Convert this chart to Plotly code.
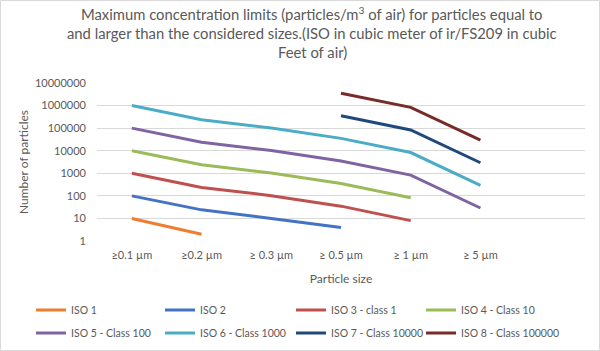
import plotly.graph_objects as go

categories = ["≥0.1 µm", "≥0.2 µm", "≥ 0.3 µm", "≥ 0.5 µm", "≥ 1 µm", "≥ 5 µm"]

iso1 = [10, 2, None, None, None, None]
iso2 = [100, 24, 10, 4, None, None]
iso3 = [1000, 237, 102, 35, 8, None]
iso4 = [10000, 2370, 1020, 352, 83, None]
iso5 = [100000, 23700, 10200, 3520, 832, 29]
iso6 = [1000000, 237000, 102000, 35200, 8320, 293]
iso7 = [None, None, None, 352000, 83200, 2930]
iso8 = [None, None, None, 3520000, 832000, 29300]

series_names = ["ISO 1", "ISO 2", "ISO 3 - class 1", "ISO 4 - Class 10",
                "ISO 5 - Class 100", "ISO 6 - Class 1000", "ISO 7 - Class 10000",
                "ISO 8 - Class 100000"]
series_values = [iso1, iso2, iso3, iso4, iso5, iso6, iso7, iso8]
colors = ["#ED7D31", "#4472C4", "#C0504D", "#9BBB59", "#8064A2", "#4BACC6",
          "#1F497D", "#772C2A"]

y_ticks = [1, 10, 100, 1000, 10000, 100000, 1000000, 10000000]
y_ticktext = [str(v) for v in y_ticks]

title_lines = ["Maximum concentration limits (particles/m<sup>3</sup> of air) for particles equal to",
               "and larger than the considered sizes.(ISO in cubic meter of ir/FS209 in cubic",
               "Feet of air)"]

W, H = 600, 351
L, R, T, B = 97, 15, 83, 110
pw, ph = W - L - R, H - T - B

def px_x(p):
    return (p - L) / pw

def px_y(p):
    return (H - B - p) / ph

font = "Lato, 'Open Sans', sans-serif"
grey = "#595959"

legend_cols_px = [31, 160, 291, 421]
legend_rows_px = [310, 333]

fig = go.Figure()
legend_layout = {}
for i, (name, vals, c) in enumerate(zip(series_names, series_values, colors)):
    key = "legend" if i == 0 else f"legend{i + 1}"
    fig.add_trace(go.Scatter(x=categories, y=vals, mode="lines", name=name,
                             line=dict(color=c, width=3), connectgaps=False,
                             legend=key))
    legend_layout[key] = dict(
        orientation="h", xanchor="left", yanchor="middle",
        x=px_x(legend_cols_px[i % 4]), y=px_y(legend_rows_px[i // 4]),
        font=dict(size=10.5, color=grey), bgcolor="rgba(0,0,0,0)")

title_y = [14, 33, 52]
annotations = [dict(text=t, xref="paper", yref="paper",
                    x=px_x(312), y=px_y(yy), xanchor="center", yanchor="middle",
                    showarrow=False, font=dict(size=14.8, color=grey, family=font))
               for t, yy in zip(title_lines, title_y)]

fig.update_layout(
    width=W, height=H,
    margin=dict(l=L, r=R, t=T, b=B, autoexpand=False),
    paper_bgcolor="white", plot_bgcolor="white",
    font=dict(family=font, color=grey, size=11),
    xaxis=dict(
        type="category", range=[-0.5, 6.5], showgrid=False, showline=False,
        ticks="", tickfont=dict(size=11, color=grey), ticklabelstandoff=6,
        title=dict(text="Particle size", font=dict(size=12, color=grey), standoff=14),
    ),
    yaxis=dict(
        type="log", range=[0, 7], tickvals=y_ticks, ticktext=y_ticktext,
        showgrid=True, gridcolor="#D9D9D9", gridwidth=1, zeroline=False,
        showline=False, ticks="", tickfont=dict(size=11, color=grey),
        ticklabelstandoff=10,
        title=dict(text="Number of particles", font=dict(size=12, color=grey), standoff=3),
    ),
    showlegend=True,
    annotations=annotations,
    shapes=[dict(type="rect", xref="paper", yref="paper",
                 x0=px_x(0.5), x1=px_x(W - 0.5), y0=px_y(H - 0.5), y1=px_y(0.5),
                 line=dict(color="#D9D9D9", width=1), layer="below")],
    **legend_layout,
)

fig.write_html("out.html")
